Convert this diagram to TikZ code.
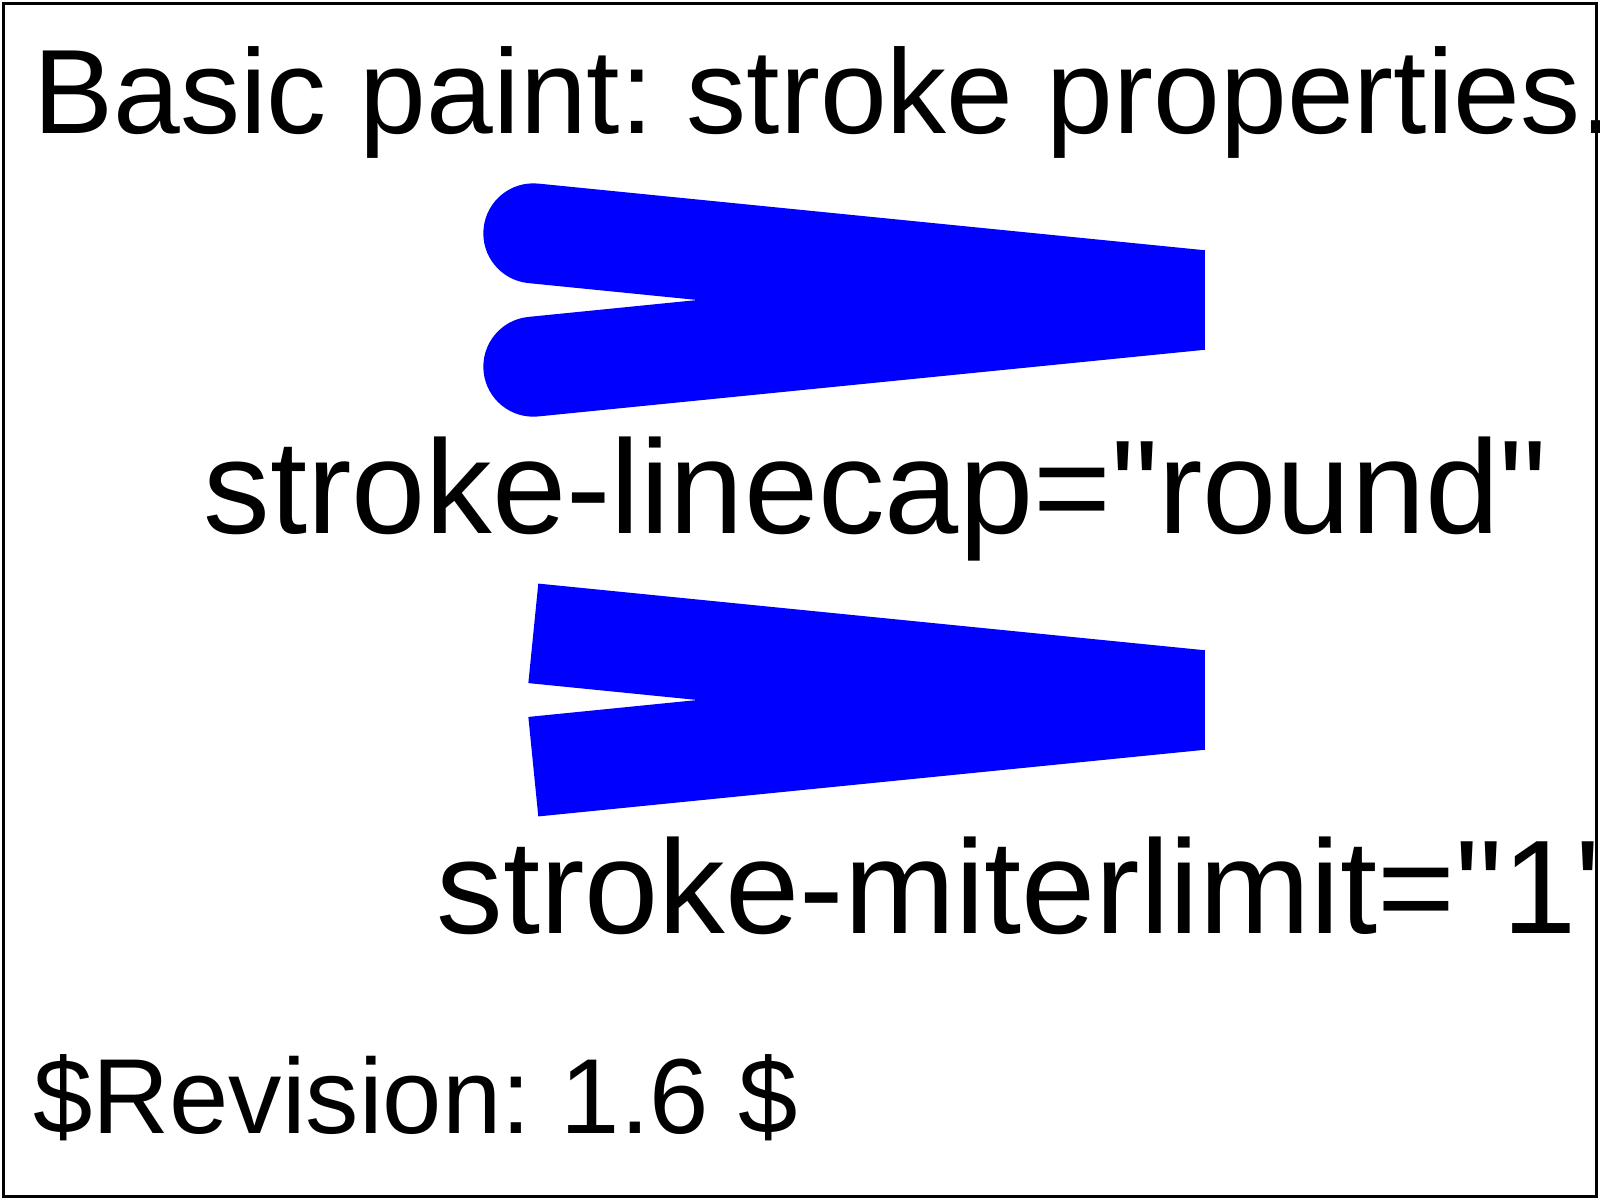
\documentclass[tikz,border=0pt]{standalone}
\usepackage{fontspec}
\setmainfont{Liberation Sans}
\frenchspacing
\usepackage{tikz}
\usetikzlibrary{positioning}

\begin{document}
\begin{tikzpicture}[
    x=1pt, y=-1pt,
    txt/.style={anchor=base west, inner sep=0pt, outer sep=0pt},
    title/.style={txt, font=\fontsize{36}{36}\selectfont},
    caption/.style={txt, font=\fontsize{40}{40}\selectfont},
    revision/.style={txt, font=\fontsize{32}{32}\selectfont},
    paint/.style={draw=blue, line width=30pt, line join=miter}
]
    \useasboundingbox (0,0) rectangle (480,360);
    \clip (0,0) rectangle (480,360);

    % Title
    \node (title) [title] at (10,40) {Basic paint: stroke properties.};

    % Round caps, default miter limit
    \draw [paint, line cap=round, miter limit=4] (160,70) -- (360,90) -- (160,110);
    \node (capLabel) [caption] at (61,160) {stroke-linecap=\textquotedbl round\textquotedbl};

    % Butt caps, miter limit 1
    \draw [paint, line cap=butt, miter limit=1] (160,190) -- (360,210) -- (160,230);
    \node (miterLabel) [caption] at (131,280) {stroke-miterlimit=\textquotedbl 1\textquotedbl};

    % Footer and frame
    \node (rev) [revision] at (10,340) {\$Revision: 1.6 \$};
    \draw [line width=1pt] (1,1) rectangle (479,359);
\end{tikzpicture}
\end{document}
